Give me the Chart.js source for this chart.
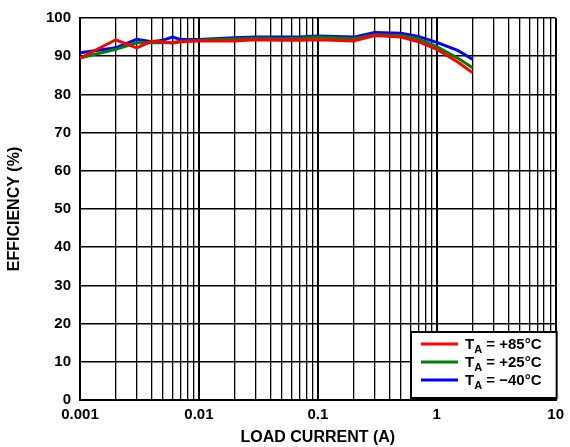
<!DOCTYPE html>
<html>
<head>
<meta charset="utf-8">
<script src="https://cdn.jsdelivr.net/npm/chart.js@4/dist/chart.umd.min.js"></script>
<style>
  html, body { margin: 0; padding: 0; background: #fff; }
  #wrap { width: 570px; height: 447px; }
</style>
</head>
<body>
<div id="wrap"><canvas id="chart"></canvas></div>
<script>
const loadCurrent = [0.001, 0.002, 0.003, 0.004, 0.005, 0.006, 0.007, 0.01, 0.02, 0.03, 0.05, 0.07, 0.1, 0.2, 0.3, 0.5, 0.7, 1, 1.5, 2];
const eff85 = [89.5, 94.3, 92.2, 93.9, 93.8, 93.4, 93.8, 94.0, 94.0, 94.3, 94.2, 94.2, 94.3, 94.0, 95.4, 95.0, 93.8, 91.8, 88.5, 85.7];
const eff25 = [89.5, 91.8, 93.5, 93.6, 93.5, 93.6, 93.9, 94.2, 94.5, 94.7, 94.6, 94.7, 95.0, 94.6, 95.6, 95.4, 94.5, 92.5, 89.5, 87.0];
const effM40 = [90.9, 92.2, 94.4, 93.8, 94.2, 95.0, 94.4, 94.4, 94.8, 95.0, 95.0, 95.0, 95.3, 95.0, 96.2, 96.0, 95.2, 93.6, 91.5, 89.2];
const tempLabels = ["+85°C", "+25°C", "\u221240°C"];
const seriesColors = ["#ff0000", "#008000", "#0000ff"];
const xTickLabels = ["0.001", "0.01", "0.1", "1", "10"];
const yTicks = [0, 10, 20, 30, 40, 50, 60, 70, 80, 90, 100];

const FONT = "'Liberation Sans', Arial, sans-serif";

function toPoints(ys) {
  return loadCurrent.map((x, i) => ({ x: x, y: ys[i] }));
}

function logGridValues() {
  const vals = [];
  for (let d = -3; d < 1; d++) {
    for (let m = 1; m < 10; m++) vals.push(+(m * Math.pow(10, d)).toPrecision(3));
  }
  vals.push(10);
  return vals;
}

function isDecade(v) {
  const l = Math.log10(v);
  return Math.abs(l - Math.round(l)) < 1e-9;
}

// legend with subscript "A", drawn in the lower right corner of the plot
const boxLegend = {
  id: "boxLegend",
  afterDraw(chart) {
    const ctx = chart.ctx;
    const area = chart.chartArea;
    const right = area.right + 1;
    const bottom = area.bottom - 2;
    const left = 411;
    const top = 332;
    ctx.save();
    ctx.fillStyle = "#fff";
    ctx.fillRect(left, top, right - left, bottom - top);
    ctx.strokeStyle = "#000";
    ctx.lineWidth = 2;
    ctx.strokeRect(left, top, right - left, bottom - top);
    const rows = [344, 362, 380];
    chart.data.datasets.forEach((ds, i) => {
      const y = rows[i];
      ctx.strokeStyle = ds.borderColor;
      ctx.lineWidth = 3;
      ctx.beginPath();
      ctx.moveTo(421, y);
      ctx.lineTo(458, y);
      ctx.stroke();
      ctx.fillStyle = "#000";
      ctx.textBaseline = "alphabetic";
      ctx.font = "bold 15px " + FONT;
      let x = 465;
      ctx.fillText("T", x, y + 5);
      x += ctx.measureText("T").width;
      ctx.font = "bold 11px " + FONT;
      ctx.fillText("A", x, y + 9);
      x += ctx.measureText("A").width;
      ctx.font = "bold 15px " + FONT;
      ctx.fillText(" = " + tempLabels[i], x, y + 5);
    });
    ctx.restore();
  }
};

new Chart(document.getElementById("chart"), {
  type: "line",
  data: {
    datasets: [
      { label: "TA = " + tempLabels[0], data: toPoints(eff85), borderColor: seriesColors[0] },
      { label: "TA = " + tempLabels[1], data: toPoints(eff25), borderColor: seriesColors[1] },
      { label: "TA = " + tempLabels[2], data: toPoints(effM40), borderColor: seriesColors[2] }
    ].map((d) => Object.assign(d, { borderWidth: 3, pointRadius: 0, fill: false, tension: 0 }))
  },
  options: {
    responsive: true,
    maintainAspectRatio: false,
    animation: false,
    layout: { padding: { top: 15, right: 13, left: 0, bottom: 0 } },
    plugins: { legend: { display: false }, tooltip: { enabled: false } },
    scales: {
      x: {
        type: "logarithmic",
        min: 0.001,
        max: 10,
        afterBuildTicks(scale) {
          scale.ticks = logGridValues().map((v) => ({ value: v, major: isDecade(v) }));
        },
        afterFit(scale) { scale.height = 47; },
        ticks: {
          autoSkip: false,
          maxRotation: 0,
          color: "#000",
          padding: 6,
          font: { family: FONT, weight: "bold", size: 15 },
          callback(v) {
            if (!isDecade(v)) return "";
            return xTickLabels[Math.round(Math.log10(v)) + 3];
          }
        },
        grid: {
          color: "#000",
          drawTicks: false,
          lineWidth(c) { return c.tick && isDecade(c.tick.value) ? 2 : 1.3; }
        },
        border: { color: "#000", width: 2 },
        title: {
          display: true,
          text: "LOAD CURRENT (A)",
          color: "#000",
          padding: { top: 0, bottom: 0 },
          font: { family: FONT, weight: "bold", size: 16 }
        }
      },
      y: {
        min: 0,
        max: 100,
        afterBuildTicks(scale) {
          scale.ticks = yTicks.map((v) => ({ value: v }));
        },
        afterFit(scale) { scale.width = 80; },
        ticks: {
          color: "#000",
          padding: 9,
          font: { family: FONT, weight: "bold", size: 15 }
        },
        grid: { color: "#000", lineWidth: 1.5, drawTicks: false },
        border: { color: "#000", width: 2 },
        title: {
          display: true,
          text: "EFFICIENCY (%)",
          color: "#000",
          padding: { top: 5, bottom: 0 },
          font: { family: FONT, weight: "bold", size: 16 }
        }
      }
    }
  },
  plugins: [boxLegend]
});
</script>
</body>
</html>
